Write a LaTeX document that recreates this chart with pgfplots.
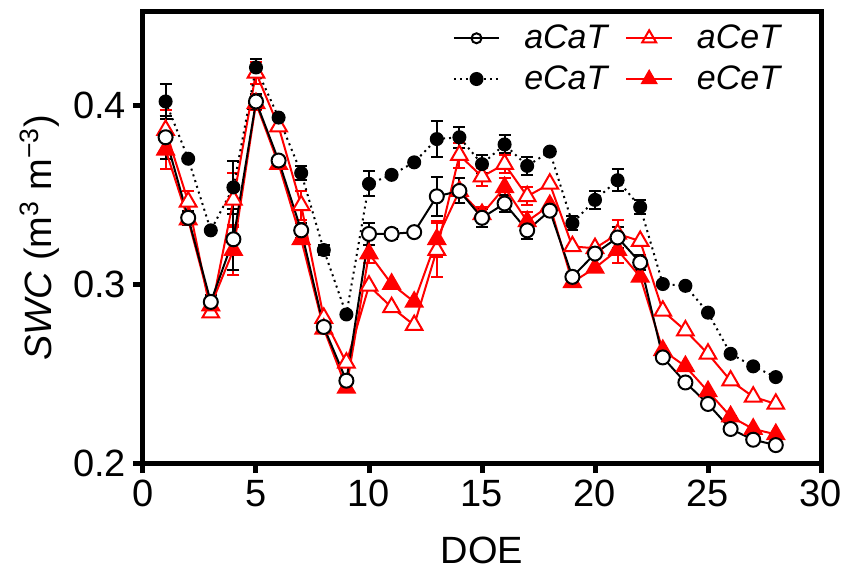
\documentclass[border=0pt]{standalone}
\usepackage{fontspec}
\setmainfont{Liberation Sans}
\usepackage{pgfplots}
\usepackage{pgfplotstable}
\pgfplotsset{compat=1.18}

% x = day of experiment, y = SWC, e = error (0 where the bar hides behind the marker)
\pgfplotstableread{
x y e
1 0.382 0.012
2 0.337 0.004
3 0.290 0.004
4 0.325 0.017
5 0.402 0.004
6 0.369 0
7 0.330 0.004
8 0.276 0.003
9 0.246 0
10 0.328 0.006
11 0.328 0.003
12 0.329 0
13 0.349 0.011
14 0.352 0.007
15 0.337 0.005
16 0.345 0.005
17 0.330 0.005
18 0.341 0
19 0.304 0
20 0.317 0
21 0.326 0.006
22 0.312 0.004
23 0.259 0
24 0.245 0
25 0.233 0
26 0.219 0
27 0.213 0
28 0.210 0
}\aCaT

\pgfplotstableread{
x y e
1 0.402 0.010
2 0.370 0
3 0.330 0
4 0.354 0.015
5 0.421 0.005
6 0.393 0
7 0.362 0.004
8 0.319 0.003
9 0.283 0
10 0.356 0.007
11 0.361 0
12 0.368 0
13 0.381 0.010
14 0.382 0.006
15 0.367 0.005
16 0.378 0.005
17 0.366 0.005
18 0.374 0
19 0.334 0.004
20 0.347 0.005
21 0.358 0.006
22 0.343 0.004
23 0.300 0
24 0.299 0
25 0.284 0
26 0.261 0
27 0.254 0
28 0.248 0
}\eCaT

\pgfplotstableread{
x y e
1 0.386 0.011
2 0.346 0.006
3 0.284 0
4 0.347 0.015
5 0.418 0.006
6 0.388 0
7 0.344 0.008
8 0.281 0
9 0.256 0
10 0.299 0
11 0.287 0
12 0.277 0
13 0.319 0.015
14 0.372 0.007
15 0.360 0.005
16 0.367 0.005
17 0.349 0.005
18 0.356 0
19 0.321 0
20 0.320 0
21 0.328 0.008
22 0.324 0
23 0.285 0
24 0.274 0
25 0.261 0
26 0.246 0
27 0.237 0
28 0.233 0
}\aCeT

\pgfplotstableread{
x y e
1 0.375 0.011
2 0.336 0
3 0.288 0
4 0.319 0.014
5 0.401 0.004
6 0.367 0
7 0.325 0
8 0.275 0
9 0.242 0
10 0.317 0.005
11 0.300 0
12 0.290 0
13 0.325 0.010
14 0.352 0.007
15 0.339 0.004
16 0.354 0.005
17 0.335 0.005
18 0.344 0
19 0.301 0
20 0.309 0
21 0.319 0.007
22 0.304 0
23 0.263 0
24 0.254 0
25 0.240 0
26 0.226 0
27 0.219 0
28 0.216 0
}\eCeT

\begin{document}
\begin{tikzpicture}
\useasboundingbox (-71.5pt,-55pt) rectangle (351pt,231.5pt);
\begin{axis}[
    at={(0,0)}, anchor=south west,
    scale only axis, width=339pt, height=225.5pt,
    xmin=0, xmax=30, ymin=0.2, ymax=0.452,
    xtick={0,5,...,30}, ytick={0.2,0.3,0.4},
    yticklabel style={/pgf/number format/fixed, /pgf/number format/precision=1},
    /pgf/number format/assume math mode=true,
    tick label style={font=\fontsize{19}{19}\selectfont},
    axis line style={line width=2.5pt},
    tick style={line width=2.5pt, black},
    major tick length=5pt,
    tick align=outside,
    xtick pos=bottom, ytick pos=left,
    xlabel={DOE},
    xlabel style={yshift=-8pt},
    ylabel={\textit{SWC} (m\textsuperscript{3} m\textsuperscript{−3})},
    label style={font=\fontsize{19}{19}\selectfont},
    legend columns=2,
    legend style={at={(0.955,0.99)}, anchor=north east, draw=none, fill=none,
        font=\fontsize{17}{17}\selectfont\itshape, row sep=3pt,
        /tikz/every even column/.append style={column sep=7pt},
        /tikz/every odd column/.append style={column sep=10pt}},
    legend image code/.code={\draw[mark repeat=2,mark phase=2] plot coordinates {(0cm,0cm) (0.4cm,0cm) (0.8cm,0cm)};},
    ebar/.style={only marks, mark=none, forget plot,
        error bars/y dir=both, error bars/y explicit,
        error bars/error bar style={#1, line width=1pt, solid},
        error bars/error mark options={#1, line width=1pt, mark size=3pt, solid, rotate=90}},
]
% error bars first, markers on top of them
\addplot[ebar=red] table[x=x, y=y, y error=e] {\aCeT};
\addplot[ebar=red] table[x=x, y=y, y error=e] {\eCeT};
\addplot[ebar=black] table[x=x, y=y, y error=e] {\eCaT};
\addplot[ebar=black] table[x=x, y=y, y error=e] {\aCaT};

% red series first, black on top
\addplot[red, line width=1pt, mark=triangle*, mark size=4.8pt, mark options={fill=white, solid}, forget plot]
    table[x=x, y=y] {\aCeT};
\addplot[red, line width=1pt, mark=triangle*, mark size=4.8pt, mark options={fill=red, solid}, forget plot]
    table[x=x, y=y] {\eCeT};
\addplot[black, line width=1pt, dotted, mark=*, mark size=3pt, mark options={fill=black, solid}, forget plot]
    table[x=x, y=y] {\eCaT};
\addplot[black, line width=1pt, mark=*, mark size=3.5pt, mark options={fill=white, solid}, forget plot]
    table[x=x, y=y] {\aCaT};

\addlegendimage{black, line width=1pt, mark=o, mark size=2.5pt}
\addlegendentry{aCaT}
\addlegendimage{red, line width=1pt, mark=triangle, mark size=4pt}
\addlegendentry{aCeT}
\addlegendimage{black, line width=1pt, dotted, mark=*, mark size=3pt, mark options={solid}}
\addlegendentry{eCaT}
\addlegendimage{red, line width=1pt, mark=triangle*, mark size=4pt}
\addlegendentry{eCeT}
\end{axis}
\end{tikzpicture}
\end{document}
